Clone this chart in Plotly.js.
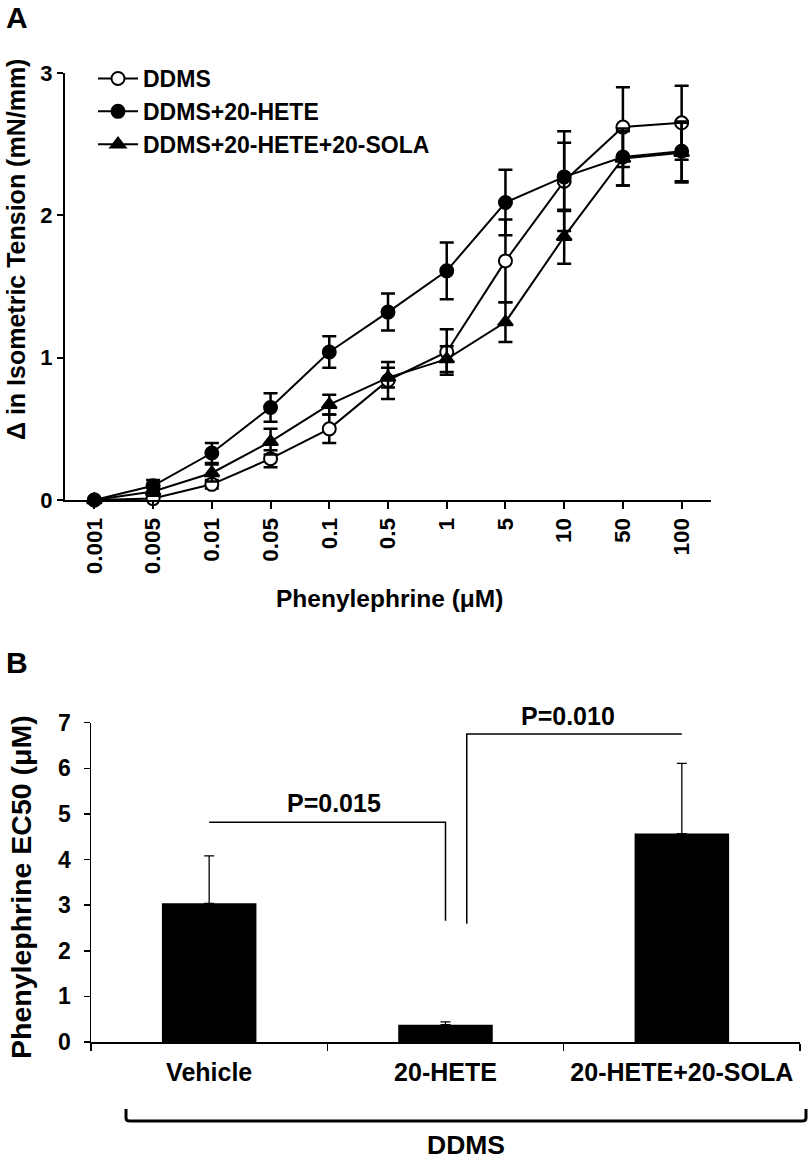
<!DOCTYPE html>
<html>
<head>
<meta charset="utf-8">
<script src="https://cdn.plot.ly/plotly-3.0.1.min.js"></script>
<style>html,body{margin:0;padding:0;background:#fff;}#chart{width:809px;height:1160px;}</style>
</head>
<body>
<div id="chart"></div>
<script>
// ---- Panel A data ----
const concentrations = ['0.001','0.005','0.01','0.05','0.1','0.5','1','5','10','50','100'];
const ddms       = [0, 0.01, 0.11, 0.29, 0.50, 0.84, 1.04, 1.68, 2.24, 2.62, 2.65];
const ddmsErr    = [0, 0.02, 0.03, 0.06, 0.10, 0.13, 0.16, 0.29, 0.35, 0.28, 0.26];
const hete       = [0, 0.10, 0.33, 0.65, 1.04, 1.32, 1.61, 2.09, 2.27, 2.41, 2.45];
const heteErr    = [0, 0.04, 0.07, 0.10, 0.11, 0.13, 0.20, 0.23, 0.24, 0.20, 0.21];
const sola       = [0, 0.06, 0.19, 0.41, 0.67, 0.86, 0.99, 1.25, 1.85, 2.40, 2.44];
const solaErr    = [0, 0.03, 0.06, 0.09, 0.07, 0.07, 0.09, 0.14, 0.19, 0.19, 0.21];
const seriesNames = ['DDMS', 'DDMS+20-HETE', 'DDMS+20-HETE+20-SOLA'];

// ---- Panel B data ----
const groups     = ['Vehicle', '20-HETE', '20-HETE+20-SOLA'];
const ec50       = [3.04, 0.38, 4.57];
const ec50Err    = [1.04, 0.06, 1.54];
const pLabels    = ['P=0.015', 'P=0.010'];

const F = 'Arial, "Liberation Sans", Helvetica, sans-serif';
const bold = (size) => ({family: F, size: size, color: '#000', weight: 'bold'});

function lineTrace(y, err, name, symbol, fill) {
  return {
    type: 'scatter', mode: 'lines+markers', x: concentrations, y: y, name: name,
    xaxis: 'x', yaxis: 'y', cliponaxis: false,
    line: {color: '#000', width: 2},
    marker: {symbol: symbol, size: 13, color: fill, line: {color: '#000', width: 2}},
    error_y: {type: 'data', array: err, visible: true, color: '#000', thickness: 2.5, width: 7}
  };
}

const traces = [
  lineTrace(ddms, ddmsErr, seriesNames[0], 'circle', '#fff'),
  lineTrace(hete, heteErr, seriesNames[1], 'circle', '#000'),
  lineTrace(sola, solaErr, seriesNames[2], 'triangle-up', '#000'),
  {
    type: 'bar', x: groups, y: ec50, xaxis: 'x2', yaxis: 'y2', showlegend: false,
    width: 0.4, marker: {color: '#000', line: {width: 0}},
    error_y: {type: 'data', symmetric: false, array: ec50Err, arrayminus: [0,0,0],
              visible: true, color: '#000', thickness: 1.3, width: 5}
  }
];

const W = 809, H = 1160;
const px = (x) => x / W;
const py = (y) => 1 - y / H;

const layout = {
  width: W, height: H,
  margin: {l: 0, r: 0, t: 0, b: 0},
  paper_bgcolor: '#fff', plot_bgcolor: '#fff',
  showlegend: true,
  legend: {
    x: px(93), y: py(57), xanchor: 'left', yanchor: 'top',
    font: bold(23), bgcolor: 'rgba(0,0,0,0)', borderwidth: 0,
    tracegroupgap: 0, itemwidth: 40
  },
  xaxis: {
    domain: [px(65), px(711)], anchor: 'y', type: 'category', range: [-0.5, 10.5],
    showline: true, linecolor: '#000', linewidth: 2, mirror: false,
    ticks: 'outside', ticklen: 7, tickwidth: 2, tickcolor: '#000',
    tickangle: -90, tickfont: bold(22.5), showgrid: false, zeroline: false, fixedrange: true
  },
  yaxis: {
    domain: [py(500), py(73)], anchor: 'x', range: [0, 3], dtick: 1, tick0: 0,
    showline: true, linecolor: '#000', linewidth: 2,
    ticks: 'outside', ticklen: 6, tickwidth: 2, tickcolor: '#000',
    tickfont: bold(22), showgrid: false, zeroline: false, fixedrange: true
  },
  xaxis2: {
    domain: [px(91), px(800)], anchor: 'y2', type: 'category', range: [-0.5, 2.5],
    tickson: 'boundaries', showline: true, linecolor: '#000', linewidth: 1.5,
    ticks: 'outside', ticklen: 7, tickwidth: 1.5, tickcolor: '#000', ticklabelstandoff: 7,
    tickfont: bold(25), showgrid: false, zeroline: false, fixedrange: true
  },
  yaxis2: {
    domain: [py(1042), py(722.7)], anchor: 'x2', range: [0, 7], dtick: 1, tick0: 0,
    showline: true, linecolor: '#000', linewidth: 1.5,
    ticks: 'outside', ticklen: 6, tickwidth: 1.5, tickcolor: '#000', ticklabelstandoff: 8,
    tickfont: bold(23), showgrid: false, zeroline: false, fixedrange: true
  },
  shapes: [
    // P=0.015 bracket
    {type: 'path', xref: 'x2', yref: 'y2', path: 'M 0 4.82 L 1 4.82 L 1 2.66',
     line: {color: '#000', width: 1.5}},
    // P=0.010 bracket
    {type: 'path', xref: 'x2', yref: 'y2', path: 'M 1.09 2.59 L 1.09 6.75 L 2 6.75',
     line: {color: '#000', width: 1.5}},
    // DDMS group bracket
    {type: 'path', xref: 'paper', yref: 'paper',
     path: `M ${px(126)} ${py(1109)} L ${px(126)} ${py(1118)} Q ${px(126)} ${py(1121)} ${px(130)} ${py(1121)} L ${px(802)} ${py(1121)} Q ${px(806)} ${py(1121)} ${px(806)} ${py(1118)} L ${px(806)} ${py(1109)}`,
     line: {color: '#000', width: 3}}
  ],
  annotations: [
    {text: 'A', xref: 'paper', yref: 'paper', x: px(17), y: py(18), showarrow: false,
     font: bold(30), xanchor: 'center', yanchor: 'middle'},
    {text: 'B', xref: 'paper', yref: 'paper', x: px(17), y: py(663), showarrow: false,
     font: bold(30), xanchor: 'center', yanchor: 'middle'},
    {text: 'Δ in Isometric Tension (mN/mm)', xref: 'paper', yref: 'paper',
     x: px(16), y: py(250), textangle: -90, showarrow: false, font: bold(25),
     xanchor: 'center', yanchor: 'middle'},
    {text: 'Phenylephrine (μM)', xref: 'paper', yref: 'paper',
     x: px(389), y: py(598), showarrow: false, font: bold(24.5),
     xanchor: 'center', yanchor: 'middle'},
    {text: 'Phenylephrine EC50 (μM)', xref: 'paper', yref: 'paper',
     x: px(21), y: py(887), textangle: -90, showarrow: false, font: bold(28.5),
     xanchor: 'center', yanchor: 'middle'},
    {text: pLabels[0], xref: 'x2', yref: 'paper', x: 0.53, y: py(803), showarrow: false,
     font: bold(25), xanchor: 'center', yanchor: 'middle'},
    {text: pLabels[1], xref: 'x2', yref: 'paper', x: 1.52, y: py(716), showarrow: false,
     font: bold(25), xanchor: 'center', yanchor: 'middle'},
    {text: 'DDMS', xref: 'paper', yref: 'paper', x: px(466), y: py(1145), showarrow: false,
     font: bold(26.5), xanchor: 'center', yanchor: 'middle'}
  ]
};

Plotly.newPlot('chart', traces, layout, {staticPlot: true, displayModeBar: false});
</script>
</body>
</html>
